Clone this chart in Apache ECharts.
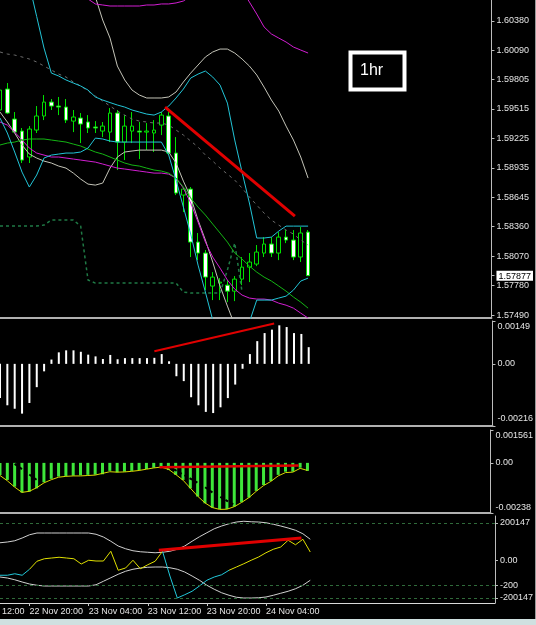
<!DOCTYPE html>
<html>
<head>
<meta charset="utf-8">
<script src="https://cdn.jsdelivr.net/npm/echarts@6/dist/echarts.min.js"></script>
<style>
html, body { margin: 0; padding: 0; background: #000; }
#chart { width: 536px; height: 625px; }
</style>
</head>
<body>
<div id="chart"></div>
<script>
// hourly bars, 22 Nov 16:00 .. 24 Nov 10:00
const times = [
  "22 Nov 16:00", "22 Nov 17:00", "22 Nov 18:00", "22 Nov 19:00", "22 Nov 20:00", "22 Nov 21:00", "22 Nov 22:00", "22 Nov 23:00",
  "23 Nov 00:00", "23 Nov 01:00", "23 Nov 02:00", "23 Nov 03:00", "23 Nov 04:00", "23 Nov 05:00", "23 Nov 06:00", "23 Nov 07:00",
  "23 Nov 08:00", "23 Nov 09:00", "23 Nov 10:00", "23 Nov 11:00", "23 Nov 12:00", "23 Nov 13:00", "23 Nov 14:00", "23 Nov 15:00",
  "23 Nov 16:00", "23 Nov 17:00", "23 Nov 18:00", "23 Nov 19:00", "23 Nov 20:00", "23 Nov 21:00", "23 Nov 22:00", "23 Nov 23:00",
  "24 Nov 00:00", "24 Nov 01:00", "24 Nov 02:00", "24 Nov 03:00", "24 Nov 04:00", "24 Nov 05:00", "24 Nov 06:00", "24 Nov 07:00",
  "24 Nov 08:00", "24 Nov 09:00", "24 Nov 10:00"
];

// [open, close, low, high]
const candles = [
  [1.59505, 1.59701, 1.59485, 1.59750], [1.59711, 1.59475, 1.59465, 1.59770], [1.59416, 1.59288, 1.59279, 1.59485],
  [1.59298, 1.59013, 1.58984, 1.59328], [1.59043, 1.59318, 1.58984, 1.59347], [1.59308, 1.59446, 1.59279, 1.59544],
  [1.59446, 1.59583, 1.59406, 1.59652], [1.59583, 1.59544, 1.59505, 1.59613], [1.59544, 1.59534, 1.59455, 1.59633],
  [1.59534, 1.59406, 1.59377, 1.59613], [1.59396, 1.59436, 1.59288, 1.59505], [1.59426, 1.59367, 1.59180, 1.59475],
  [1.59387, 1.59328, 1.59279, 1.59455], [1.59338, 1.59328, 1.59279, 1.59396], [1.59298, 1.59347, 1.59239, 1.59387],
  [1.59288, 1.59475, 1.59190, 1.59524], [1.59475, 1.59190, 1.58915, 1.59505], [1.59190, 1.59347, 1.59013, 1.59455],
  [1.59298, 1.59347, 1.59180, 1.59485], [1.59298, 1.59288, 1.59023, 1.59387], [1.59288, 1.59298, 1.59111, 1.59377],
  [1.59279, 1.59308, 1.59092, 1.59406], [1.59357, 1.59455, 1.59259, 1.59485], [1.59446, 1.59082, 1.59062, 1.59485],
  [1.59082, 1.58689, 1.58669, 1.59239], [1.58669, 1.58728, 1.58502, 1.58748], [1.58728, 1.58207, 1.58060, 1.58748],
  [1.58207, 1.58099, 1.58030, 1.58296], [1.58099, 1.57863, 1.57735, 1.58129], [1.57775, 1.57863, 1.57637, 1.57912],
  [1.57804, 1.57814, 1.57637, 1.57853], [1.57784, 1.57725, 1.57617, 1.57834], [1.57725, 1.57843, 1.57627, 1.57873],
  [1.57843, 1.57961, 1.57784, 1.58060], [1.57961, 1.58011, 1.57814, 1.58099], [1.57991, 1.58109, 1.57971, 1.58178],
  [1.58099, 1.58188, 1.58060, 1.58256], [1.58188, 1.58099, 1.58060, 1.58256], [1.58099, 1.58256, 1.58030, 1.58305],
  [1.58256, 1.58227, 1.58197, 1.58325], [1.58227, 1.58060, 1.58030, 1.58325], [1.58060, 1.58296, 1.58011, 1.58355],
  [1.58305, 1.57877, 1.57877, 1.58325]
];

const cyanUpper = [1.61864, 1.61569, 1.61274, 1.60979, 1.60734, 1.60424, 1.60114, 1.59868, 1.59839, 1.59800,
  1.59770, 1.59741, 1.59701, 1.59633, 1.59603, 1.59578, 1.59554, 1.59534, 1.59505, 1.59485,
  1.59465, 1.59455, 1.59485, 1.59544, 1.59623, 1.59711, 1.59819, 1.59858, 1.59888, 1.59829,
  1.59750, 1.59573, 1.59210, 1.58895, 1.58591, 1.58247, 1.58247, 1.58256, 1.58315, 1.58364,
  1.58364, 1.58364, 1.58364];
const cyanLower = [1.59426, 1.59279, 1.59092, 1.58895, 1.58748, 1.58866, 1.59033, 1.59062, 1.59072, 1.59082,
  1.59082, 1.59092, 1.59131, 1.59229, 1.59220, 1.59200, 1.59190, 1.59190, 1.59190, 1.59190,
  1.59190, 1.59190, 1.59190, 1.59062, 1.58816, 1.58551, 1.58286, 1.57981, 1.57716, 1.57441,
  1.57195, 1.57048, 1.57048, 1.57195, 1.57421, 1.57637, 1.57637, 1.57637, 1.57657, 1.57676,
  1.57735, 1.57824, 1.57853];
const grayUpper = [null, null, null, null, null, null, null, null, null, null,
  1.61353, 1.61107, 1.60861, 1.60617, 1.60389, 1.60212, 1.59937, 1.59800, 1.59701, 1.59652,
  1.59623, 1.59623, 1.59623, 1.59633, 1.59682, 1.59780, 1.59868, 1.59947, 1.60026, 1.60075,
  1.60104, 1.60104, 1.60065, 1.60006, 1.59937, 1.59849, 1.59730, 1.59603, 1.59495, 1.59347,
  1.59210, 1.59043, 1.58836];
const grayLower = [1.59485, 1.59387, 1.59279, 1.59161, 1.59072, 1.59033, 1.59003, 1.58984, 1.58954, 1.58934,
  1.58885, 1.58826, 1.58777, 1.58767, 1.58787, 1.58934, 1.59043, 1.59092, 1.59102, 1.59111,
  1.59111, 1.59111, 1.59111, 1.59092, 1.58984, 1.58806, 1.58649, 1.58423, 1.58227, 1.58011,
  1.57775, 1.57578, 1.57391, 1.57195, 1.57048, 1.56949, 1.56900, 1.56870, 1.56870, 1.56900,
  1.56949, 1.56998, 1.57048];
const magentaUpper = [null, null, null, null, null, null, null, null, null, null,
  1.60684, 1.60625, 1.60596, 1.60547, 1.60537, 1.60527, 1.60527, 1.60527, 1.60527, 1.60527,
  1.60537, 1.60537, 1.60547, 1.60547, 1.60557, 1.60576, 1.60625, 1.60704, 1.60783, 1.60861,
  1.60881, 1.60861, 1.60783, 1.60684, 1.60566, 1.60448, 1.60321, 1.60252, 1.60212, 1.60173,
  1.60124, 1.60094, 1.60065];
const magentaLower = [1.59387, 1.59357, 1.59288, 1.59210, 1.59131, 1.59082, 1.59062, 1.59043, 1.59043, 1.59033,
  1.59023, 1.59013, 1.59003, 1.58993, 1.58974, 1.58954, 1.58934, 1.58925, 1.58915, 1.58905,
  1.58895, 1.58885, 1.58885, 1.58875, 1.58836, 1.58738, 1.58591, 1.58404, 1.58207, 1.58060,
  1.57951, 1.57834, 1.57745, 1.57686, 1.57657, 1.57647, 1.57647, 1.57637, 1.57607, 1.57587,
  1.57558, 1.57509, 1.57460];
const greenMa = [1.59161, 1.59180, 1.59190, 1.59210, 1.59220, 1.59220, 1.59220, 1.59210, 1.59200, 1.59190,
  1.59170, 1.59151, 1.59121, 1.59092, 1.59072, 1.59043, 1.59013, 1.58984, 1.58964, 1.58954,
  1.58934, 1.58915, 1.58905, 1.58885, 1.58836, 1.58748, 1.58639, 1.58551, 1.58473, 1.58384,
  1.58296, 1.58207, 1.58099, 1.58040, 1.57971, 1.57912, 1.57863, 1.57824, 1.57775, 1.57725,
  1.57667, 1.57617, 1.57558];
const stopLine = [1.58364, 1.58364, 1.58364, 1.58364, 1.58364, 1.58364, 1.58374, 1.58423, 1.58423, 1.58423,
  1.58423, 1.58364, 1.57834, 1.57804, 1.57804, 1.57804, 1.57804, 1.57804, 1.57804, 1.57804,
  1.57804, 1.57804, 1.57804, 1.57804, 1.57804, 1.57716, 1.57706, 1.57706, 1.57706, 1.57706,
  1.57706, 1.57932, 1.58197, 1.57716, null, null, null, null, null, null,
  null, null, null];
const grayDash = [1.60075, 1.60055, 1.60045, 1.60026, 1.60006, 1.59977, 1.59937, 1.59898, 1.59858, 1.59829,
  1.59780, 1.59741, 1.59691, 1.59642, 1.59593, 1.59544, 1.59495, 1.59455, 1.59416, 1.59396,
  1.59387, 1.59377, 1.59377, 1.59357, 1.59308, 1.59259, 1.59200, 1.59141, 1.59062, 1.59003,
  1.58934, 1.58875, 1.58816, 1.58738, 1.58650, 1.58571, 1.58492, 1.58423, 1.58374, 1.58325,
  1.58286, 1.58227, 1.58178];
const priceTrend = [[22.5, 1.59534], [40.2, 1.58463]];

const aoValues = [-0.00119, -0.00144, -0.00156, -0.00173, -0.00136, -0.00081, -0.00026, 0.00015, 0.00040, 0.00047,
  0.00047, 0.00042, 0.00032, 0.00026, 0.00017, 0.00031, 0.00016, 0.00020, 0.00020, 0.00020,
  0.00020, 0.00021, 0.00034, 0.00009, -0.00043, -0.00060, -0.00116, -0.00144, -0.00167, -0.00171,
  -0.00151, -0.00119, -0.00072, -0.00017, 0.00034, 0.00079, 0.00107, 0.00119, 0.00134, 0.00128,
  0.00107, 0.00104, 0.00058];
const aoTrend = [[21.0, 0.00044], [37.3, 0.00140]];

const oscHist = [-0.00057, -0.00081, -0.00113, -0.00141, -0.00137, -0.00121, -0.00092, -0.00076, -0.00065, -0.00062,
  -0.00061, -0.00059, -0.00057, -0.00056, -0.00054, -0.00038, -0.00045, -0.00042, -0.00038, -0.00034,
  -0.00029, -0.00023, -0.00018, -0.00034, -0.00057, -0.00081, -0.00121, -0.00160, -0.00192, -0.00213,
  -0.00219, -0.00219, -0.00208, -0.00187, -0.00165, -0.00133, -0.00105, -0.00086, -0.00057, -0.00042,
  -0.00042, -0.00023, -0.00038];
const oscSignal = [-0.00060, -0.00085, -0.00115, -0.00140, -0.00135, -0.00118, -0.00095, -0.00080, -0.00068, -0.00064,
  -0.00062, -0.00062, -0.00060, -0.00058, -0.00050, -0.00042, -0.00044, -0.00043, -0.00040, -0.00036,
  -0.00030, -0.00024, -0.00020, -0.00030, -0.00055, -0.00082, -0.00120, -0.00158, -0.00190, -0.00212,
  -0.00221, -0.00220, -0.00208, -0.00188, -0.00165, -0.00135, -0.00108, -0.00088, -0.00062, -0.00046,
  -0.00044, -0.00026, -0.00036];
const oscDark = [null, null, -0.00005, -0.00030, -0.00055, -0.00080, null, null, null, null,
  null, null, null, null, null, null, null, null, null, null,
  null, null, null, -0.00020, -0.00035, -0.00055, -0.00075, -0.00095, -0.00115, -0.00140,
  -0.00160, -0.00180, -0.00200, null, null, null, null, null, null, null,
  null, null, null];
const oscTrend = [[21.8, -0.00021], [40.8, -0.00013]];

const cciValues = [-118, -118, -106, -118, -70, -6, 14, 20, 26, 20,
  14, -28, 2, -4, -4, 74, -78, -60, 2, -66,
  -34, -6, 74, -124, -300, -274, -246, -204, -158, -132,
  -114, -78, -52, -26, 2, 28, 62, 90, 108, 162,
  126, 170, 68];
const cciUpper = [142, 148, 158, 180, 206, 220, 220, 220, 220, 220,
  220, 220, 220, 210, 188, 154, 116, 94, 78, 70,
  66, 62, 66, 74, 90, 116, 154, 190, 222, 254,
  276, 294, 308, 314, 310, 308, 302, 290, 276, 260,
  242, 214, 170];
const cciLower = [-132, -140, -154, -172, -188, -198, -204, -204, -204, -204,
  -204, -204, -204, -194, -166, -138, -110, -86, -70, -60,
  -54, -52, -52, -58, -70, -92, -124, -158, -198, -230,
  -258, -278, -294, -300, -300, -298, -292, -278, -262, -246,
  -226, -198, -158];
const cciLevels = [300, -200, -300];
const cciLowZone = -100;
const cciTrend = [[21.5, 82], [40.8, 180]];

// right-hand scale labels
const priceTicks = [1.60380, 1.60090, 1.59805, 1.59515, 1.59225, 1.58935, 1.58645, 1.58360, 1.58070, 1.57780, 1.57490];
const lastPrice = 1.57877;
const aoTicks = [0.00149, 0, -0.00216];
const aoTickLabels = ["0.00149", "0.00", "-0.00216"];
const oscTicks = [0.001561, 0, -0.00238];
const oscTickLabels = ["0.001561", "0.00", "-0.00238"];
const cciTicks = [300, 0, -200, -300];
const cciTickLabels = ["200147", "0.00", "-200", "-200147"];

const FONT = "Liberation Sans";
const TXT = "#e4e4e4";
const slots = times.concat(new Array(25).fill(""));
const lastSlot = slots.length - 1;

let grids = [
  { left: 0, right: 39, top: 0, height: 318 },
  { left: 0, right: 39, top: 321, height: 105 },
  { left: 0, right: 39, top: 430, height: 83 },
  { left: 0, right: 39, top: 516, height: 87 }
];

let timeLabel = idx => idx % 8 === 4 && idx < times.length;

let xAxes = [];
grids.forEach((g, i) => {
  xAxes.push({
    type: "category", gridIndex: i, data: slots, boundaryGap: false,
    axisLine: { show: true, onZero: false, lineStyle: { color: i === 3 ? "#d8d8d8" : "#b0b0b0", width: i === 3 ? 1 : 2 } },
    axisTick: { show: i === 3, interval: timeLabel, length: 3, lineStyle: { color: "#c8c8c8" } },
    axisLabel: {
      show: i === 3, interval: timeLabel, align: "left", margin: 4,
      color: TXT, fontSize: 9, fontFamily: FONT
    },
    splitLine: { show: false }
  });
});
grids.forEach((g, i) => {
  xAxes.push({ type: "value", gridIndex: i, min: 0, max: lastSlot, show: false });
});

let sideLabels = (ticks, labels) => v => {
  const k = ticks.findIndex(t => Math.abs(t - v) < 1e-7);
  if (k < 0) return "";
  if (k === 0) return "{up|" + labels[k] + "}";
  if (k === ticks.length - 1) return "{dn|" + labels[k] + "}";
  return labels[k];
};
let richBase = { color: TXT, fontSize: 9, fontFamily: FONT };

let yAxisBase = (gi, min, max, ticks, formatter, rich) => ({
  type: "value", gridIndex: gi, position: "right", min: min, max: max,
  axisLine: { show: true, onZero: false, lineStyle: { color: "#bcbcbc" } },
  axisTick: { show: true, length: 3, customValues: ticks, lineStyle: { color: "#bcbcbc" } },
  axisLabel: {
    customValues: ticks, formatter: formatter, margin: 5,
    color: TXT, fontSize: 9, fontFamily: FONT, rich: rich
  },
  splitLine: { show: false }
});

let yAxes = [
  yAxisBase(0, 1.57461, 1.60586, priceTicks.concat([lastPrice]),
    v => Math.abs(v - lastPrice) < 1e-7 ? "{cur|" + v.toFixed(5) + "}" : v.toFixed(5),
    { cur: { backgroundColor: "#ffffff", color: "#000000", fontSize: 9, fontFamily: FONT, padding: [1, 2, 0, 2] } }),
  yAxisBase(1, -0.00216, 0.00149, aoTicks, sideLabels(aoTicks, aoTickLabels),
    { up: Object.assign({ padding: [11, 0, 0, 0] }, richBase), dn: Object.assign({ padding: [0, 0, 14, 0] }, richBase) }),
  yAxisBase(2, -0.00238, 0.001561, oscTicks, sideLabels(oscTicks, oscTickLabels),
    { up: Object.assign({ padding: [11, 0, 0, 0] }, richBase), dn: Object.assign({ padding: [0, 0, 10, 0] }, richBase) }),
  yAxisBase(3, -340, 356, cciTicks, v => {
    const k = cciTicks.indexOf(v);
    return k < 0 ? "" : cciTickLabels[k];
  }, {})
];

let line = (xi, yi, data, color, extra) => Object.assign({
  type: "line", xAxisIndex: xi, yAxisIndex: yi, data: data,
  symbol: "none", silent: true, animation: false,
  lineStyle: { color: color, width: 1 }
}, extra || {});

// CCI drawn cyan while below the low zone, yellow otherwise
let inLow = cciValues.map(v => v < cciLowZone);
let cciCyan = cciValues.map((v, i) => (inLow[i] || inLow[i - 1] || inLow[i + 1]) ? v : null);
let cciYellow = cciValues.map((v, i) => inLow[i] ? null : v);

let series = [];
series.push({
  type: "candlestick", xAxisIndex: 0, yAxisIndex: 0, data: candles, barWidth: 4,
  itemStyle: { color: "#000000", color0: "#ffffff", borderColor: "#00e000", borderColor0: "#00e000", borderWidth: 1 }
});
series.push(line(0, 0, stopLine, "#1f7a45", { lineStyle: { color: "#1f7a45", width: 1.5, type: [3, 3] } }));
series.push(line(0, 0, grayDash, "#6c6c6c", { lineStyle: { color: "#6c6c6c", width: 1, type: [3, 4] } }));
series.push(line(0, 0, grayUpper, "#c4c4b8"));
series.push(line(0, 0, grayLower, "#c4c4b8"));
series.push(line(0, 0, magentaUpper, "#d21ed2"));
series.push(line(0, 0, magentaLower, "#d21ed2"));
series.push(line(0, 0, greenMa, "#14b414"));
series.push(line(0, 0, cyanUpper, "#22c4d6"));
series.push(line(0, 0, cyanLower, "#22c4d6"));
series.push(line(4, 0, priceTrend, "#e00000", { lineStyle: { color: "#e00000", width: 3 } }));

series.push({
  type: "bar", xAxisIndex: 1, yAxisIndex: 1, data: aoValues, barWidth: 2,
  itemStyle: { color: "#ffffff" }, animation: false
});
series.push(line(5, 1, aoTrend, "#e00000", { lineStyle: { color: "#e00000", width: 2 } }));

series.push({
  type: "bar", xAxisIndex: 2, yAxisIndex: 2, data: oscHist, barWidth: 3,
  itemStyle: { color: "#3ee63a" }, animation: false
});
series.push(line(2, 2, oscDark, "#000000", { lineStyle: { color: "#000000", width: 2, type: [3, 3] } }));
series.push(line(2, 2, oscSignal, "#d8d800"));
series.push(line(6, 2, oscTrend, "#e00000", { lineStyle: { color: "#e00000", width: 2.5 } }));

series.push(line(3, 3, cciUpper, "#d0d0d0", {
  markLine: {
    silent: true, symbol: "none", label: { show: false }, animation: false,
    lineStyle: { color: "#2f6a3a", type: [3, 3], width: 1 },
    data: cciLevels.map(v => ({ yAxis: v }))
  }
}));
series.push(line(3, 3, cciLower, "#d0d0d0"));
series.push(line(3, 3, cciYellow, "#e0e000"));
series.push(line(3, 3, cciCyan, "#22c8da"));
series.push(line(7, 3, cciTrend, "#e00000", { lineStyle: { color: "#e00000", width: 3 } }));

let option = {
  backgroundColor: "#000000",
  animation: false,
  grid: grids,
  xAxis: xAxes,
  yAxis: yAxes,
  series: series,
  graphic: [
    { type: "rect", shape: { x: 350.5, y: 52.5, width: 54, height: 37 }, style: { fill: "none", stroke: "#ffffff", lineWidth: 4 } },
    { type: "text", x: 360, y: 71, style: { text: "1hr", fill: "#ffffff", font: "16px " + FONT, verticalAlign: "middle" } },
    { type: "text", x: 2, y: 612, style: { text: "12:00", fill: TXT, font: "9px " + FONT, verticalAlign: "middle" } },
    { type: "rect", shape: { x: 0, y: 619, width: 536, height: 6 }, style: { fill: "#cfe0e0" } },
    { type: "rect", shape: { x: 535, y: 0, width: 1, height: 619 }, style: { fill: "#9a9a9a" } }
  ]
};

let initChart = opt => {
  const chart = echarts.init(document.querySelector("#chart"), null, { renderer: "canvas" });
  chart.setOption(opt);
  return chart;
};

initChart(option);
</script>
</body>
</html>
